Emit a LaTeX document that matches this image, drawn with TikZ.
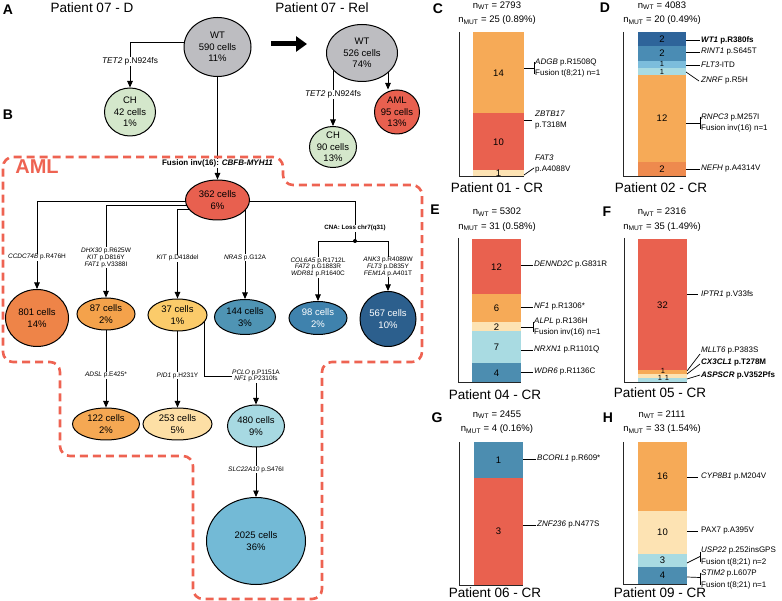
\documentclass[tikz,border=0pt]{standalone}
\usepackage{fontspec}
\setmainfont{Liberation Sans}
\usetikzlibrary{shapes.geometric, arrows.meta, positioning, calc, backgrounds}

\definecolor{wtgray}{HTML}{BDBDC1}
\definecolor{chgreen}{HTML}{D4E7CB}
\definecolor{amlred}{HTML}{E8604F}
\definecolor{dashred}{HTML}{EE6352}
\definecolor{c801}{HTML}{EE8448}
\definecolor{c87}{HTML}{F4A24B}
\definecolor{c37}{HTML}{FBCB6A}
\definecolor{c122}{HTML}{F5A853}
\definecolor{c253}{HTML}{FDDFA5}
\definecolor{c480}{HTML}{A7D9E2}
\definecolor{c2025}{HTML}{73BAD6}
\definecolor{c144}{HTML}{4F94B4}
\definecolor{c98}{HTML}{3F82AD}
\definecolor{c567}{HTML}{2C5F8D}
\definecolor{borange}{HTML}{F6AA57}
\definecolor{bred}{HTML}{E9614F}
\definecolor{byellow}{HTML}{FDE3B3}
\definecolor{blight}{HTML}{A9DBE2}
\definecolor{bblue}{HTML}{4C8DB0}
\definecolor{bdark}{HTML}{2E649A}
\definecolor{bmid}{HTML}{4A8CB4}
\definecolor{bsky}{HTML}{7CBDDC}
\definecolor{bdorange}{HTML}{EE8A4E}

\begin{document}
\begin{tikzpicture}[
    x=1pt, y=-1pt,
    cell/.style={ellipse, draw=black, line width=1pt, inner sep=-3pt, align=center, font=\fontsize{9.5}{11.5}\selectfont},
    mut/.style={fill=white, inner sep=0.6pt, align=center, font=\fontsize{6.5}{6.8}\selectfont},
    mutA/.style={fill=white, inner sep=0.8pt, font=\fontsize{8.3}{9}\selectfont},
    fusion/.style={fill=white, inner sep=0.8pt, font=\fontsize{8}{9}\selectfont\bfseries},
    cna/.style={fill=white, inner sep=0.6pt, font=\fontsize{6.2}{7}\selectfont\bfseries},
    arrow/.style={-{Triangle[length=6.5pt,width=5.5pt]}, line width=0.9pt},
    link/.style={line width=0.9pt},
    lead/.style={line width=0.7pt},
    axisl/.style={line width=0.9pt, draw=black!85},
    blbl/.style={anchor=west, inner sep=1pt, align=left, font=\fontsize{8}{11.5}\selectfont},
    cnt/.style={align=center, font=\fontsize{9.5}{14.5}\selectfont},
    num/.style={inner sep=0pt, font=\fontsize{9.5}{10}\selectfont},
    tiny/.style={inner sep=0pt, font=\fontsize{7.5}{8}\selectfont},
    panel/.style={font=\fontsize{14}{14}\selectfont\bfseries},
    ptitle/.style={font=\fontsize{13.5}{14}\selectfont},
    amlzone/.style={draw=dashred, line width=2.6pt, dash pattern=on 8pt off 5pt, rounded corners=10pt},
    amltag/.style={text=dashred, font=\fontsize{20}{20}\selectfont\bfseries}
]
\useasboundingbox (0,0) rectangle (782,601);

% Panel A: diagnosis and relapse
\node[panel] (lblA) at (8,10) {A};
\node[ptitle] (titD) at (92,8) {Patient 07 - D};
\node[ptitle] (titRel) at (322,8) {Patient 07 - Rel};
\node[cell, fill=wtgray, minimum width=67pt, minimum height=59pt] (wtD) at (217.5,47) {WT\\590 cells\\11\%};
\node[cell, fill=chgreen, minimum width=51pt, minimum height=48pt] (chD) at (130,112) {CH\\42 cells\\1\%};
\node[cell, fill=wtgray, minimum width=71pt, minimum height=57pt] (wtR) at (362,53) {WT\\526 cells\\74\%};
\node[cell, fill=chgreen, minimum width=47pt, minimum height=41pt] (chR) at (333,147) {CH\\90 cells\\13\%};
\node[cell, fill=amlred, minimum width=45pt, minimum height=44pt] (amlR) at (397,112) {AML\\95 cells\\13\%};
\coordinate (relA) at (271,44);
\coordinate (relB) at (307,44);
\draw[line width=5pt, -{Triangle[length=11pt,width=15pt]}] (relA) -- (relB);

% Panel B: AML subclones
\node[panel] (lblB) at (8,115) {B};
\draw[amlzone] (100,157) -- (283,157) -- (283,185) -- (422,185) -- (422,362) -- (322,362) -- (322,599) -- (193,599) -- (193,456) -- (60,456) -- (60,362) -- (3,362) -- (3,157) -- cycle;
\node[amltag] (amlTag) at (37,167) {AML};

\node[cell, fill=amlred, minimum width=64pt, minimum height=40pt] (n362) at (217.5,200) {362 cells\\6\%};
\node[cell, fill=c801, minimum width=63pt, minimum height=57pt] (n801) at (37,318) {801 cells\\14\%};
\node[cell, fill=c87, minimum width=58pt, minimum height=32pt] (n87) at (106,314) {87 cells\\2\%};
\node[cell, fill=c37, minimum width=59pt, minimum height=32pt] (n37) at (177.5,315) {37 cells\\1\%};
\node[cell, fill=c144, minimum width=61pt, minimum height=35pt] (n144) at (245,317) {144 cells\\3\%};
\node[cell, fill=c98, text=white, minimum width=58pt, minimum height=33pt] (n98) at (318,318) {98 cells\\2\%};
\node[cell, fill=c567, text=white, minimum width=56pt, minimum height=55pt] (n567) at (388,319) {567 cells\\10\%};
\node[cell, fill=c122, minimum width=67pt, minimum height=32pt] (n122) at (106,424) {122 cells\\2\%};
\node[cell, fill=c253, minimum width=69pt, minimum height=32pt] (n253) at (177.5,424) {253 cells\\5\%};
\node[cell, fill=c480, minimum width=57pt, minimum height=42pt] (n480) at (256,426) {480 cells\\9\%};
\node[cell, fill=c2025, minimum width=99pt, minimum height=87pt] (n2025) at (256,541) {2025 cells\\36\%};

\begin{scope}[on background layer]
% edges of panel A
\draw[arrow] (wtD.172) -| node[mutA, pos=0.715] {\textit{TET2} p.N924fs} (chD);
\draw[arrow] (wtD) -- node[fusion, pos=0.845] {Fusion inv(16): \textit{CBFB-MYH11}} (n362);
\draw[arrow] (chR |- wtR.center) -- node[mutA, pos=0.57] {\textit{TET2} p.N924fs} (chR);
\path (wtR.center) ++(26,0) coordinate (amlFrom);
\draw[arrow] (amlFrom) -- (amlFrom |- amlR.north);

% edges of panel B
\draw[arrow] ($(n362.center)+(0,1)$) -| node[mut, pos=0.82] {\textit{CCDC74B} p.R476H} (n801);
\draw[arrow] ($(n362.center)+(0,5)$) -| node[mut, pos=0.785] {\textit{DHX30} p.R625W\\\textit{KIT} p.D816Y\\\textit{FAT1} p.V3388I} (n87);
\draw[arrow] ($(n362.center)+(0,9)$) -| node[mut, pos=0.775] {\textit{KIT} p.D418del} (n37);
\draw[arrow] ($(n362.center)+(0,9)$) -| node[mut, pos=0.77] {\textit{NRAS} p.G12A} (n144);
\coordinate (cnaJ) at (355,241);
\draw[link] ($(n362.center)+(0,1)$) -| node[cna, pos=0.84] {CNA: Loss chr7(q31)} (cnaJ);
\fill (cnaJ) circle (2pt);
\draw[arrow] (cnaJ) -| node[mut, pos=0.72] {\textit{COL6A5} p.R1712L\\\textit{FAT2} p.G1883R\\\textit{WDR81} p.R1640C} (n98);
\draw[arrow] (cnaJ) -| node[mut, pos=0.76] {\textit{ANK3} p.R4089W\\\textit{FLT3} p.D835Y\\\textit{FEM1A} p.A401T} (n567);
\draw[arrow] (n87) -- node[mut, pos=0.58] {\textit{ADSL} p.E425*} (n122);
\draw[arrow] (n37) -- node[mut, pos=0.58] {\textit{PID1} p.H231Y} (n253);
\coordinate (j480) at (256,376);
\draw[arrow] ($(n37.center)+(27,5)$) |- (j480) node[mut] {\textit{PCLO} p.P1151A\\\textit{NF1} p.P2310fs} -- (n480);
\draw[arrow] (n480) -- node[mut, pos=0.45] {\textit{SLC22A10} p.S476I} (n2025);
\end{scope}

% Panel C
\node[panel] (lblC) at (438,9) {C};
\node[cnt] (cntC) at (497,13) {n\textsubscript{WT} = 2793\\n\textsubscript{MUT} = 25 (0.89\%)};
\foreach \ya/\yb/\col in {32/112.6/borange, 112.6/170.2/bred, 170.2/176/byellow}
  \fill[\col] (473,\ya) rectangle (524,\yb);
\draw[axisl] (459,32) -- (459,176) -- (524,176);
\node[num] (numC1) at (498.5,73) {14};
\node[num] (numC2) at (498.5,142) {10};
\node[num] (numC3) at (498.5,173) {1};
\node[blbl] (labC1) at (534,68) {\textit{ADGB} p.R1508Q\\Fusion t(8;21) n=1};
\draw[lead] (524,68) -- (labC1.west);
\draw[lead] ([yshift=6pt]labC1.west) -- ([yshift=-6pt]labC1.west);
\node[blbl] (labC2) at (534,120) {\textit{ZBTB17}\\p.T318M};
\draw[lead] (524,120) -- ([xshift=-2pt]labC2.west);
\node[blbl] (labC3) at (534,164) {\textit{FAT3}\\p.A4088V};
\draw[lead] (524,175) -- ([yshift=-4pt]labC3.west);
\node[ptitle] (titC) at (497,188) {Patient 01 - CR};

% Panel D
\node[panel] (lblD) at (605,8) {D};
\node[cnt] (cntD) at (662,13) {n\textsubscript{WT} = 4083\\n\textsubscript{MUT} = 20 (0.49\%)};
\foreach \ya/\yb/\col in {32/46.4/bdark, 46.4/60.8/bmid, 60.8/68/bsky, 68/75.2/blight, 75.2/161.6/borange, 161.6/176/bdorange}
  \fill[\col] (638,\ya) rectangle (686,\yb);
\draw[axisl] (623,32) -- (623,176) -- (686,176);
\node[num] (numD1) at (662,39.2) {2};
\node[num] (numD2) at (662,53.6) {2};
\node[tiny] (numD3) at (662,64.4) {1};
\node[tiny] (numD4) at (662,71.8) {1};
\node[num] (numD5) at (662,118.4) {12};
\node[num] (numD6) at (662,168.8) {2};
\node[blbl] (labD1) at (700,40) {\textbf{\textit{WT1} p.R380fs}};
\draw[lead] (686,40) -- (labD1.west);
\node[blbl] (labD2) at (700,52) {\textit{RINT1} p.S645T};
\draw[lead] (686,52) -- (labD2.west);
\node[blbl] (labD3) at (700,65) {\textit{FLT3}-ITD};
\draw[lead] (686,65) -- (labD3.west);
\node[blbl] (labD4) at (700,81) {\textit{ZNRF} p.R5H};
\draw[lead] (686,72) -- ([xshift=-1pt]labD4.west);
\node[blbl] (labD5) at (700,123) {\textit{RNPC3} p.M257I\\Fusion inv(16) n=1};
\draw[lead] (686,123) -- (labD5.west);
\draw[lead] ([yshift=6pt]labD5.west) -- ([yshift=-6pt]labD5.west);
\node[blbl] (labD6) at (700,169) {\textit{NEFH} p.A4314V};
\draw[lead] (686,169) -- (labD6.west);
\node[ptitle] (titD2) at (661,188) {Patient 02 - CR};

% Panel E
\node[panel] (lblE) at (435,210) {E};
\node[cnt] (cntE) at (497,219.5) {n\textsubscript{WT} = 5302\\n\textsubscript{MUT} = 31 (0.58\%)};
\foreach \ya/\yb/\col in {239/294.4/bred, 294.4/322.1/borange, 322.1/331.3/byellow, 331.3/363.5/blight, 363.5/382/bblue}
  \fill[\col] (472,\ya) rectangle (521,\yb);
\draw[axisl] (458,238) -- (458,382) -- (521,382);
\node[num] (numE1) at (496.5,266.7) {12};
\node[num] (numE2) at (496.5,308.3) {6};
\node[num] (numE3) at (496.5,326.7) {2};
\node[num] (numE4) at (496.5,347.4) {7};
\node[num] (numE5) at (496.5,372.8) {4};
\node[blbl] (labE1) at (533,265) {\textit{DENND2C} p.G831R};
\draw[lead] (521,265) -- (labE1.west);
\node[blbl] (labE2) at (533,307) {\textit{NF1} p.R1306*};
\draw[lead] (521,307) -- (labE2.west);
\node[blbl] (labE3) at (533,327) {\textit{ALPL} p.R136H\\Fusion inv(16) n=1};
\draw[lead] (521,327) -- (labE3.west);
\draw[lead] ([yshift=5pt]labE3.west) -- ([yshift=-5pt]labE3.west);
\node[blbl] (labE4) at (533,350) {\textit{NRXN1} p.R1101Q};
\draw[lead] (521,350) -- (labE4.west);
\node[blbl] (labE5) at (533,372) {\textit{WDR6} p.R1136C};
\draw[lead] (521,372) -- (labE5.west);
\node[ptitle] (titE) at (495,395) {Patient 04 - CR};

% Panel F
\node[panel] (lblF) at (607,212) {F};
\node[cnt] (cntF) at (662,219.5) {n\textsubscript{WT} = 2316\\n\textsubscript{MUT} = 35 (1.49\%)};
\foreach \ya/\yb/\col in {239/369.7/bred, 369.7/373.8/borange, 373.8/377.9/byellow, 377.9/382/blight}
  \fill[\col] (638,\ya) rectangle (687,\yb);
\draw[axisl] (624,238) -- (624,382) -- (687,382);
\node[num] (numF1) at (662.5,305) {32};
\node[tiny] (numF2) at (663,370.5) {1};
\node[tiny] (numF3) at (660,378) {1};
\node[tiny] (numF4) at (667,378) {1};
\node[blbl] (labF1) at (700,294) {\textit{IPTR1} p.V33fs};
\draw[lead] (687,294) -- ([xshift=-2pt]labF1.west);
\node[blbl] (labF2) at (700,351) {\textit{MLLT6} p.P383S};
\draw[lead] (687,371) -- ([yshift=-3pt]labF2.west);
\node[blbl] (labF3) at (700,363) {\textbf{\textit{CX3CL1} p.T278M}};
\draw[lead] (687,374) -- ([yshift=-1pt]labF3.west);
\node[blbl] (labF4) at (700,375) {\textbf{\textit{ASPSCR} p.V352Pfs}};
\draw[lead] (687,379) -- (labF4.west);
\node[ptitle] (titF) at (660,393) {Patient 05 - CR};

% Panel G
\node[panel] (lblG) at (437,418) {G};
\node[cnt] (cntG) at (497,422) {n\textsubscript{WT} = 2455\\n\textsubscript{MUT} = 4 (0.16\%)};
\foreach \ya/\yb/\col in {442/477.75/bblue, 477.75/585/bred}
  \fill[\col] (474,\ya) rectangle (523,\yb);
\draw[axisl] (459,442) -- (459,585) -- (523,585);
\node[num] (numG1) at (498.5,460) {1};
\node[num] (numG2) at (498.5,531) {3};
\node[blbl] (labG1) at (536,459) {\textit{BCORL1} p.R609*};
\draw[lead] (523,459) -- (labG1.west);
\node[blbl] (labG2) at (536,525) {\textit{ZNF236} p.N477S};
\draw[lead] (523,525) -- (labG2.west);
\node[ptitle] (titG) at (495,593) {Patient 06 - CR};

% Panel H
\node[panel] (lblH) at (608,418) {H};
\node[cnt] (cntH) at (662,422) {n\textsubscript{WT} = 2111\\n\textsubscript{MUT} = 33 (1.54\%)};
\foreach \ya/\yb/\col in {442/510.8/borange, 510.8/553.9/byellow, 553.9/566.8/blight, 566.8/584/bblue}
  \fill[\col] (638,\ya) rectangle (687,\yb);
\draw[axisl] (623,442) -- (623,584) -- (687,584);
\node[num] (numH1) at (662.5,476.4) {16};
\node[num] (numH2) at (662.5,532.3) {10};
\node[num] (numH3) at (662.5,560.3) {3};
\node[num] (numH4) at (662.5,575.4) {4};
\node[blbl] (labH1) at (700,477) {\textit{CYP8B1} p.M204V};
\draw[lead] (687,477) -- ([xshift=-2pt]labH1.west);
\node[blbl] (labH2) at (700,531) {PAX7 p.A395V};
\draw[lead] (687,531) -- ([xshift=-2pt]labH2.west);
\node[blbl] (labH3) at (700,556.5) {\textit{USP22} p.252insGPS\\Fusion t(8;21) n=2};
\draw[lead] (687,563) -- (labH3.west);
\draw[lead] ([yshift=5pt]labH3.west) -- ([yshift=-5pt]labH3.west);
\node[blbl] (labH4) at (700,579.5) {\textit{STIM2} p.L607P\\Fusion t(8;21) n=1};
\draw[lead] (687,577) -- ([yshift=2pt]labH4.west);
\draw[lead] ([yshift=7pt]labH4.west) -- ([yshift=-5pt]labH4.west);
\node[ptitle] (titH) at (660,593) {Patient 09 - CR};

\end{tikzpicture}
\end{document}
